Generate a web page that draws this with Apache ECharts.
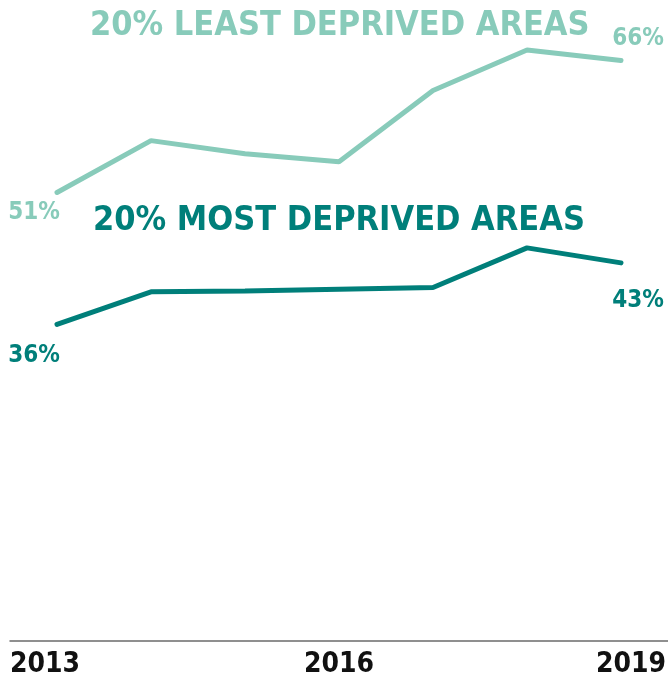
<!DOCTYPE html>
<html>
<head>
<meta charset="utf-8">
<script src="https://cdn.jsdelivr.net/npm/echarts@6/dist/echarts.min.js"></script>
<style>
  html, body { margin: 0; padding: 0; background: #fff; }
  #chart { width: 668px; height: 675px; }
</style>
</head>
<body>
<div id="chart"></div>
<script>
// Share of people (%) by area deprivation, 2013–2019
const years = [2013, 2014, 2015, 2016, 2017, 2018, 2019];
const leastDeprived = [51, 56.9, 55.4, 54.5, 62.6, 67.2, 66];
const mostDeprived = [36, 39.7, 39.8, 40.0, 40.2, 44.7, 43];
const yearLabels = [2013, 2016, 2019];

const LIGHT = '#88CBBA';
const DARK = '#007F7A';
const FONT = '"DejaVu Sans Condensed", "DejaVu Sans", sans-serif';

// label placement for the first and last point of each line
function buildData(values, firstOffset, lastOffset, color) {
  return values.map((v, i) => {
    const item = { value: [years[i], v] };
    if (i === 0 || i === values.length - 1) {
      item.label = {
        show: true,
        position: 'inside',
        offset: i === 0 ? firstOffset : lastOffset,
        formatter: p => Math.round(p.value[1]) + '%',
        color: color,
        fontFamily: FONT,
        fontWeight: 'bold',
        fontSize: 24
      };
    }
    return item;
  });
}

const chart = echarts.init(document.getElementById('chart'), null, { renderer: 'canvas' });
chart.setOption({
  animation: false,
  backgroundColor: '#fff',
  grid: { left: 10, right: 0, top: 43, bottom: 34, containLabel: false, outerBoundsMode: 'none' },
  title: [
    {
      text: '20% LEAST DEPRIVED AREAS',
      left: 90, top: 9, padding: 0,
      textStyle: { color: LIGHT, fontFamily: FONT, fontWeight: 'bold', fontSize: 34 }
    },
    {
      text: '20% MOST DEPRIVED AREAS',
      left: 93, top: 204, padding: 0,
      textStyle: { color: DARK, fontFamily: FONT, fontWeight: 'bold', fontSize: 34 }
    }
  ],
  xAxis: {
    type: 'value',
    min: 2012.5,
    max: 2019.5,
    axisLine: { show: true, onZero: false, lineStyle: { color: '#6b6b6b', width: 1.5 } },
    axisTick: { show: false },
    splitLine: { show: false },
    axisLabel: {
      customValues: yearLabels,
      margin: 10,
      formatter: v => v === 2013 ? '{l|' + v + '}' : v === 2019 ? '{r|' + v + '}' : '{c|' + v + '}',
      rich: {
        l: { fontFamily: FONT, fontWeight: 'bold', fontSize: 28, color: '#111', padding: [0, 24, 0, 0] },
        c: { fontFamily: FONT, fontWeight: 'bold', fontSize: 28, color: '#111' },
        r: { fontFamily: FONT, fontWeight: 'bold', fontSize: 28, color: '#111', padding: [0, 0, 0, 20] }
      }
    }
  },
  yAxis: {
    type: 'value',
    min: 0,
    max: 68,
    show: false
  },
  series: [
    {
      name: '20% least deprived areas',
      type: 'line',
      data: buildData(leastDeprived, [-23, 20], [17, -22], LIGHT),
      symbol: 'circle',
      symbolSize: 0.1,
      showSymbol: true,
      itemStyle: { color: LIGHT },
      lineStyle: { color: LIGHT, width: 5, cap: 'round' },
      label: { show: false }
    },
    {
      name: '20% most deprived areas',
      type: 'line',
      data: buildData(mostDeprived, [-23, 31], [17, 38], DARK),
      symbol: 'circle',
      symbolSize: 0.1,
      showSymbol: true,
      itemStyle: { color: DARK },
      lineStyle: { color: DARK, width: 5, cap: 'round' },
      label: { show: false }
    }
  ]
});
</script>
</body>
</html>
